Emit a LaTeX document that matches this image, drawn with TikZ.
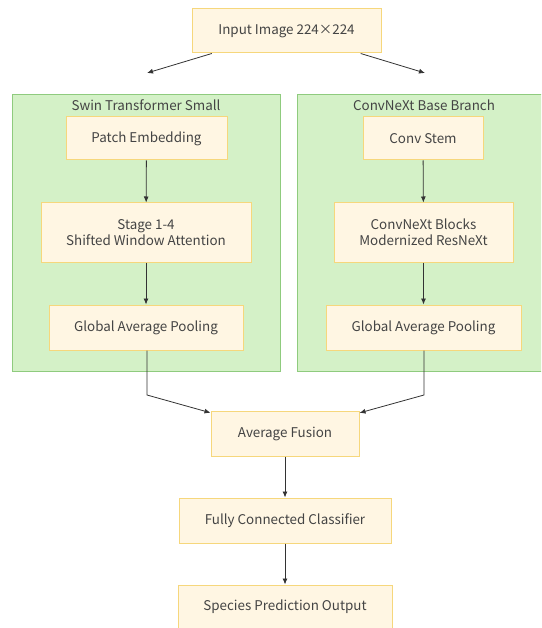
\documentclass[tikz,border=0pt]{standalone}
\usepackage{fontspec}
\setmainfont{Noto Sans CJK SC}
\usetikzlibrary{arrows.meta}
\definecolor{boxfill}{HTML}{FFF6E3}
\definecolor{boxline}{HTML}{F6D77C}
\definecolor{grpfill}{HTML}{D4F1C7}
\definecolor{grpline}{HTML}{8FCB7E}
\definecolor{txtgray}{HTML}{444444}
\definecolor{arrgray}{HTML}{333333}
\tikzset{
  blk/.style={draw=boxline, fill=boxfill, line width=1pt, text=txtgray,
    align=center, inner sep=0pt, font=\fontsize{13.4}{15.5}\selectfont},
  grp/.style={draw=grpline, fill=grpfill, line width=1pt, inner sep=0pt},
  ttl/.style={text=txtgray, inner sep=0pt, font=\fontsize{13.4}{15.5}\selectfont},
  arw/.style={draw=arrgray, line width=0.8pt, -{Latex[length=6pt,width=5pt]}},
}
\begin{document}
\begin{tikzpicture}[x=1pt,y=-1pt]
\clip (0,0) rectangle (541,628);
% branches
\node[grp, minimum width=268, minimum height=276] (swin) at (146,233) {};
\node[grp, minimum width=254, minimum height=276] (cnx) at (424,233) {};
\node[ttl] (swinttl) at (146,105) {Swin Transformer Small};
\node[ttl] (cnxttl) at (424,105) {ConvNeXt Base Branch};
% input
\node[blk, minimum width=189, minimum height=44] (inp) at (286.5,31) {Input Image 224×224};
\coordinate (c1) at (147,73);
\coordinate (c2) at (425,73);
% swin
\node[blk, minimum width=161, minimum height=43] (patch) at (146.5,138.5) {Patch Embedding};
\node[blk, minimum width=210, minimum height=59] (stage) at (146,232.5) {Stage 1-4\\Shifted Window Attention};
\node[blk, minimum width=194, minimum height=45] (gap1) at (146,327.5) {Global Average Pooling};
% convnext
\node[blk, minimum width=120, minimum height=43] (stem) at (423,138.5) {Conv Stem};
\node[blk, minimum width=179, minimum height=59] (blocks) at (423.5,232.5) {ConvNeXt Blocks\\Modernized ResNeXt};
\node[blk, minimum width=195, minimum height=45] (gap2) at (423.5,327.5) {Global Average Pooling};
% head
\node[blk, minimum width=148, minimum height=45] (fuse) at (285,433.5) {Average Fusion};
\node[blk, minimum width=212, minimum height=45] (fc) at (285,520.5) {Fully Connected Classifier};
\node[blk, minimum width=214, minimum height=44] (out) at (285,607) {Species Prediction Output};
\coordinate (j1) at (147,395);
\coordinate (j2) at (424,395);

\draw[arw] (inp) -- (c1);
\draw[arw] (inp) -- (c2);
\draw[arw] (patch) -- (stage);
\draw[arw] (stage) -- (gap1);
\draw[arw] (stem) -- (blocks);
\draw[arw] (blocks) -- (gap2);
\draw[arw] (gap1.south -| j1) -- (j1) -- (fuse);
\draw[arw] (gap2.south -| j2) -- (j2) -- (fuse);
\draw[arw] (fuse) -- (fc);
\draw[arw] (fc) -- (out);
\end{tikzpicture}
\end{document}
